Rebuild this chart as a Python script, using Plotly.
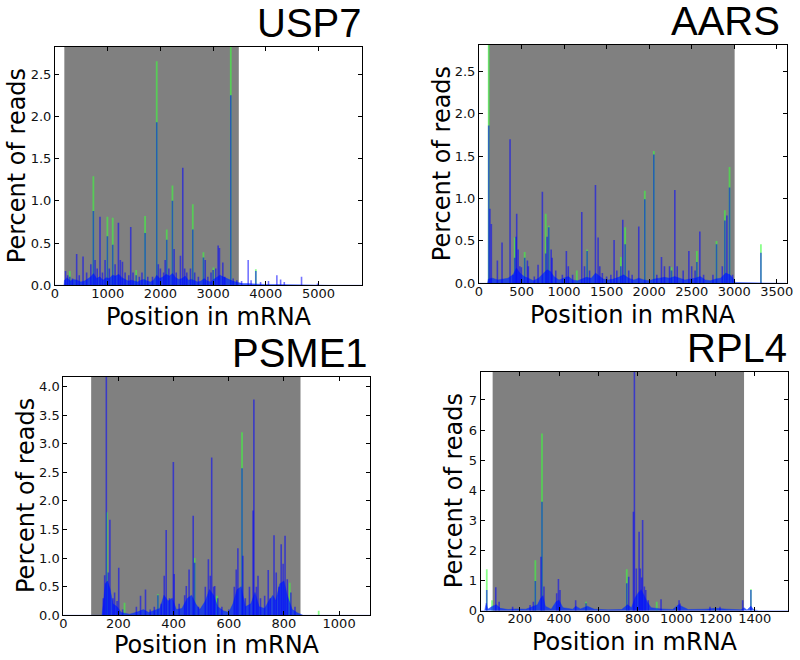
import plotly.graph_objects as go

# ---------------- data ----------------
genes = ["USP7", "AARS", "PSME1", "RPL4"]

# mRNA length shown on x axis, y-axis maximum, CDS (grey) region
usp7_len, usp7_ymax, usp7_cds = 5830, 2.82, (177, 3487)
aars_len, aars_ymax, aars_cds = 3617, 2.81, (110, 3005)
psme1_len, psme1_ymax, psme1_cds = 1112, 4.17, (101, 860)
rpl4_len, rpl4_ymax, rpl4_cds = 1571, 7.94, (61, 1345)

usp7_xticks = [0, 1000, 2000, 3000, 4000, 5000]
usp7_yticks = [0.0, 0.5, 1.0, 1.5, 2.0, 2.5]
aars_xticks = [0, 500, 1000, 1500, 2000, 2500, 3000, 3500]
aars_yticks = [0.0, 0.5, 1.0, 1.5, 2.0, 2.5]
psme1_xticks = [0, 200, 400, 600, 800, 1000]
psme1_yticks = [0.0, 0.5, 1.0, 1.5, 2.0, 2.5, 3.0, 3.5, 4.0]
rpl4_xticks = [0, 200, 400, 600, 800, 1000, 1200, 1400]
rpl4_yticks = [0, 1, 2, 3, 4, 5, 6, 7]

# (position, percent of reads) - blue sample peaks
usp7_blue = [(200, 0.17), (240, 0.12), (280, 0.10), (330, 0.08), (411, 0.37), (460, 0.12), (532, 0.34),
             (600, 0.15), (680, 0.25), (728, 0.88), (760, 0.30), (800, 0.20), (854, 0.81), (900, 0.15),
             (950, 0.30), (994, 0.58), (1030, 0.20), (1095, 0.48), (1140, 0.25), (1203, 0.74), (1240, 0.30),
             (1280, 0.28), (1330, 0.15), (1400, 0.12), (1437, 0.69), (1480, 0.15), (1540, 0.12), (1600, 0.10),
             (1650, 0.15), (1709, 0.62), (1760, 0.10), (1850, 0.10), (1930, 1.93), (1960, 0.25), (2000, 0.20),
             (2060, 0.15), (2090, 0.30), (2120, 0.54), (2160, 0.20), (2228, 1.00), (2260, 0.43), (2300, 0.15),
             (2380, 0.35), (2424, 1.39), (2460, 0.20), (2500, 0.15), (2570, 0.20), (2614, 0.66), (2650, 0.15),
             (2720, 0.10), (2816, 0.33), (2850, 0.30), (2900, 0.10), (2960, 0.15), (3000, 0.18), (3050, 0.20),
             (3095, 0.47), (3120, 0.44), (3184, 0.27), (3220, 0.10), (3335, 2.25), (3380, 0.08), (3450, 0.06),
             (3540, 0.05), (3665, 0.30), (3720, 0.06), (3810, 0.17), (3900, 0.04), (4050, 0.05), (4209, 0.12),
             (4280, 0.07), (4350, 0.04), (4677, 0.10), (4981, 0.02)]
usp7_green = [(280, 0.17), (728, 1.29), (994, 0.81), (1095, 0.80), (1540, 0.18), (1709, 0.82), (1930, 2.65),
              (2120, 0.66), (2228, 1.18), (2614, 0.96), (2816, 0.39), (3006, 0.21), (3335, 2.90), (3810, 0.19)]
usp7_base = [(0, 0), (170, 0), (180, 0.06), (230, 0.09), (290, 0.05), (350, 0.07), (420, 0.06), (490, 0.04),
             (560, 0.05), (620, 0.07), (680, 0.10), (730, 0.14), (790, 0.08), (850, 0.10), (910, 0.06),
             (970, 0.09), (1030, 0.08), (1090, 0.12), (1150, 0.11), (1210, 0.13), (1270, 0.09), (1330, 0.07),
             (1390, 0.05), (1450, 0.06), (1510, 0.05), (1570, 0.04), (1630, 0.06), (1690, 0.07), (1750, 0.05),
             (1810, 0.04), (1870, 0.06), (1930, 0.12), (1990, 0.08), (2050, 0.10), (2110, 0.13), (2170, 0.11),
             (2230, 0.14), (2290, 0.09), (2350, 0.07), (2410, 0.08), (2470, 0.11), (2530, 0.06), (2590, 0.07),
             (2650, 0.05), (2710, 0.04), (2770, 0.05), (2830, 0.08), (2890, 0.05), (2950, 0.04), (3010, 0.07),
             (3070, 0.09), (3130, 0.12), (3190, 0.10), (3250, 0.08), (3310, 0.06), (3370, 0.05), (3430, 0.04),
             (3490, 0.03), (3560, 0.02), (3650, 0.02), (3760, 0.015), (3880, 0.01), (4000, 0.01), (4150, 0.01),
             (4300, 0.01), (4450, 0.008), (4600, 0.005), (4800, 0.004), (5000, 0.003), (5200, 0), (5830, 0)]

aars_blue = [(114, 1.86), (128, 0.88), (145, 0.70), (216, 0.27), (271, 0.48), (365, 1.70), (400, 0.10),
             (420, 0.30), (435, 0.55), (443, 0.82), (460, 0.40), (480, 0.20), (498, 0.19), (537, 0.30),
             (569, 0.27), (580, 0.20), (650, 0.08), (694, 0.22), (745, 1.08), (784, 0.35), (800, 0.55),
             (820, 0.66), (848, 0.40), (859, 0.30), (902, 0.15), (980, 0.10), (1027, 0.38), (1050, 0.20),
             (1100, 0.10), (1208, 0.84), (1240, 0.20), (1271, 0.38), (1300, 0.15), (1369, 1.16), (1400, 0.54),
             (1420, 0.20), (1450, 0.12), (1500, 0.08), (1550, 0.10), (1588, 0.51), (1620, 0.15), (1667, 0.20),
             (1690, 0.75), (1718, 0.46), (1760, 0.15), (1800, 0.10), (1878, 0.67), (1949, 0.99), (2055, 1.52),
             (2090, 0.10), (2145, 0.31), (2180, 0.20), (2240, 0.20), (2263, 0.15), (2302, 1.10), (2330, 0.20),
             (2400, 0.15), (2467, 0.38), (2500, 0.20), (2540, 0.15), (2561, 0.25), (2596, 0.61), (2640, 0.10),
             (2750, 0.10), (2792, 0.46), (2860, 0.20), (2890, 0.74), (2914, 0.80), (2945, 1.13), (2980, 0.10),
             (3314, 0.36)]
aars_green = [(114, 2.90), (420, 0.54), (537, 0.37), (784, 0.82), (820, 0.68), (1150, 0.15), (1271, 0.40),
              (1667, 0.31), (1718, 0.66), (1949, 1.09), (2055, 1.56), (2263, 0.19), (2561, 0.38), (2792, 0.50),
              (2890, 0.86), (2945, 1.37), (3314, 0.46)]
aars_base = [(0, 0), (100, 0), (110, 0.05), (160, 0.06), (220, 0.04), (280, 0.05), (340, 0.06), (400, 0.10),
             (440, 0.18), (480, 0.12), (530, 0.08), (580, 0.06), (640, 0.03), (700, 0.06), (760, 0.12),
             (800, 0.16), (840, 0.14), (880, 0.08), (940, 0.04), (1000, 0.06), (1050, 0.08), (1100, 0.04),
             (1160, 0.03), (1210, 0.05), (1260, 0.07), (1320, 0.06), (1370, 0.12), (1410, 0.09), (1460, 0.05),
             (1520, 0.04), (1580, 0.05), (1640, 0.07), (1700, 0.10), (1760, 0.06), (1820, 0.04), (1880, 0.06),
             (1940, 0.04), (2000, 0.03), (2060, 0.05), (2120, 0.06), (2180, 0.07), (2240, 0.06), (2300, 0.08),
             (2360, 0.06), (2420, 0.04), (2480, 0.05), (2540, 0.06), (2600, 0.08), (2660, 0.04), (2720, 0.03),
             (2780, 0.05), (2840, 0.06), (2900, 0.12), (2950, 0.10), (3000, 0.04), (3010, 0.01), (3200, 0.005),
             (3617, 0)]

psme1_blue = [(145, 0.30), (150, 0.70), (156, 4.30), (163, 0.75), (169, 1.67), (180, 0.30), (186, 0.40),
              (195, 0.25), (201, 0.83), (215, 0.10), (265, 0.15), (280, 0.34), (298, 0.45), (315, 0.10),
              (330, 0.15), (343, 0.35), (355, 0.20), (366, 0.69), (373, 1.49), (385, 0.30), (399, 2.68),
              (402, 0.72), (420, 0.20), (440, 0.35), (446, 0.51), (456, 0.80), (471, 1.74), (476, 0.92),
              (490, 0.15), (515, 0.50), (526, 0.98), (533, 0.69), (538, 2.76), (545, 0.50), (549, 0.51),
              (560, 0.30), (575, 0.15), (600, 0.10), (620, 0.50), (627, 0.80), (633, 1.17), (648, 2.57),
              (651, 1.04), (660, 0.30), (675, 0.50), (688, 1.83), (691, 3.77), (700, 0.50), (706, 0.69),
              (715, 0.30), (730, 0.34), (743, 0.79), (750, 0.30), (764, 1.40), (772, 0.75), (782, 0.50),
              (790, 1.24), (797, 0.90), (804, 1.39), (812, 0.63), (825, 0.40), (840, 0.15)]
psme1_green = [(158, 1.80), (222, 0.22), (343, 0.37), (476, 1.00), (557, 0.34), (648, 3.20), (821, 0.57),
               (926, 0.08)]
psme1_base = [(0, 0), (140, 0), (145, 0.20), (152, 0.55), (160, 0.60), (170, 0.45), (180, 0.20), (195, 0.15),
              (210, 0.05), (240, 0.02), (270, 0.06), (290, 0.10), (310, 0.05), (330, 0.08), (350, 0.12),
              (365, 0.35), (380, 0.25), (395, 0.30), (410, 0.10), (430, 0.12), (450, 0.30), (465, 0.35),
              (480, 0.20), (495, 0.10), (515, 0.25), (530, 0.45), (545, 0.35), (560, 0.15), (580, 0.08),
              (600, 0.05), (615, 0.20), (630, 0.45), (645, 0.50), (660, 0.15), (680, 0.20), (695, 0.40),
              (710, 0.15), (730, 0.12), (745, 0.25), (760, 0.35), (770, 0.25), (785, 0.55), (800, 0.60),
              (812, 0.35), (830, 0.10), (850, 0.04), (860, 0.02), (870, 0), (1112, 0)]

rpl4_blue = [(31, 0.69), (77, 0.78), (94, 0.30), (163, 0.13), (252, 0.19), (269, 0.30), (279, 0.99),
             (308, 1.79), (313, 3.62), (323, 0.80), (388, 0.58), (397, 1.05), (405, 0.69), (485, 0.35),
             (538, 0.25), (746, 0.91), (756, 1.13), (780, 3.29), (785, 8.20), (795, 1.40), (809, 2.62),
             (815, 1.40), (822, 1.10), (827, 3.01), (836, 0.80), (843, 0.69), (856, 0.35), (921, 0.38),
             (1013, 0.35), (1018, 0.24), (1171, 0.13), (1222, 0.13), (1338, 0.35), (1380, 0.69)]
rpl4_green = [(31, 1.38), (58, 0.35), (279, 1.68), (313, 5.89), (538, 0.30), (746, 1.38), (899, 0.30),
              (1380, 0.71)]
rpl4_base = [(0, 0), (20, 0), (28, 0.25), (36, 0.05), (60, 0.15), (80, 0.20), (100, 0.08), (140, 0.04),
             (180, 0.06), (230, 0.05), (270, 0.15), (290, 0.20), (305, 0.40), (318, 0.50), (330, 0.15),
             (360, 0.05), (385, 0.30), (400, 0.35), (420, 0.10), (470, 0.05), (485, 0.15), (510, 0.06),
             (545, 0.15), (580, 0.05), (650, 0.03), (720, 0.04), (750, 0.20), (770, 0.10), (790, 0.45),
             (805, 0.60), (820, 0.70), (835, 0.50), (850, 0.30), (870, 0.10), (920, 0.06), (980, 0.04),
             (1010, 0.20), (1025, 0.15), (1060, 0.04), (1150, 0.05), (1200, 0.08), (1260, 0.05), (1330, 0.03),
             (1345, 0.10), (1360, 0.02), (1380, 0.15), (1395, 0.03), (1420, 0), (1571, 0)]

# ---------------- layout geometry ----------------
W, H = 800, 660
# axes boxes in pixels: left, right, top, bottom
boxes = {
    "USP7": (55, 362.3, 47, 285.3),
    "AARS": (479, 786.7, 45, 283.3),
    "PSME1": (63.3, 370, 376.7, 615.3),
    "RPL4": (480.7, 788.3, 371.7, 610.7),
}
title_right = {"USP7": 364, "AARS": 782, "PSME1": 370, "RPL4": 789}
ylab_x = {"USP7": 17, "AARS": 442, "PSME1": 26, "RPL4": 454}
xlab_gap = {"USP7": 16, "AARS": 16, "PSME1": 14, "RPL4": 15}

panels = {
    "USP7": dict(L=usp7_len, ymax=usp7_ymax, cds=usp7_cds, xt=usp7_xticks, yt=usp7_yticks,
                 blue=usp7_blue, green=usp7_green, base=usp7_base, fmt=".1f"),
    "AARS": dict(L=aars_len, ymax=aars_ymax, cds=aars_cds, xt=aars_xticks, yt=aars_yticks,
                 blue=aars_blue, green=aars_green, base=aars_base, fmt=".1f"),
    "PSME1": dict(L=psme1_len, ymax=psme1_ymax, cds=psme1_cds, xt=psme1_xticks, yt=psme1_yticks,
                  blue=psme1_blue, green=psme1_green, base=psme1_base, fmt=".1f"),
    "RPL4": dict(L=rpl4_len, ymax=rpl4_ymax, cds=rpl4_cds, xt=rpl4_xticks, yt=rpl4_yticks,
                 blue=rpl4_blue, green=rpl4_green, base=rpl4_base, fmt="d"),
}

BLUE = "rgba(0,0,255,0.55)"
BASEBLUE = "rgba(0,45,255,0.75)"
GREEN = "rgba(60,255,60,0.6)"
TICKFONT = dict(family="DejaVu Sans", size=13, color="#111")
LABFONT = dict(family="DejaVu Sans", size=24, color="black")
TITLEFONT = dict(family="Liberation Sans, Arial", size=40, color="black")


def stems(pairs):
    xs, ys = [], []
    for p, v in pairs:
        xs += [p, p, None]
        ys += [0, v, None]
    return xs, ys


fig = go.Figure()
layout = dict(width=W, height=H, margin=dict(l=0, r=0, t=0, b=0, autoexpand=False),
              paper_bgcolor="white", plot_bgcolor="white", showlegend=False)
shapes, annotations = [], []

for i, g in enumerate(genes):
    p = panels[g]
    n = "" if i == 0 else str(i + 1)
    xa, ya = "x" + n, "y" + n
    l, r, t, b = boxes[g]
    dx = [l / W, r / W]
    dy = [(H - b) / H, (H - t) / H]
    axis_common = dict(showline=True, linecolor="black", linewidth=1, mirror="ticks",
                       ticks="inside", ticklen=4, tickcolor="black", showgrid=False,
                       zeroline=False, tickfont=TICKFONT, automargin=False)
    layout["xaxis" + n] = dict(domain=dx, anchor=ya, range=[0, p["L"]], tickvals=p["xt"],
                               ticktext=[str(v) for v in p["xt"]], ticklabelstandoff=-4,
                               **axis_common)
    layout["yaxis" + n] = dict(domain=dy, anchor=xa, range=[0, p["ymax"]], tickvals=p["yt"],
                               tickformat=p["fmt"], **axis_common)

    # CDS shading
    shapes.append(dict(type="rect", xref=xa, yref=ya + " domain", x0=p["cds"][0], x1=p["cds"][1],
                       y0=0, y1=1, fillcolor="#808080", line=dict(width=0), layer="below"))

    # green sample (behind)
    gx, gy = stems(p["green"])
    fig.add_trace(go.Scatter(x=gx, y=gy, mode="lines", line=dict(color=GREEN, width=1.8),
                             xaxis=xa, yaxis=ya, hoverinfo="skip"))
    # blue low-level coverage
    fig.add_trace(go.Scatter(x=[q[0] for q in p["base"]], y=[q[1] for q in p["base"]], mode="lines",
                             line=dict(color=BASEBLUE, width=0.5), fill="tozeroy", fillcolor=BASEBLUE,
                             xaxis=xa, yaxis=ya, hoverinfo="skip"))
    # blue peaks
    bx, by = stems(p["blue"])
    fig.add_trace(go.Scatter(x=bx, y=by, mode="lines", line=dict(color=BLUE, width=1.6),
                             xaxis=xa, yaxis=ya, hoverinfo="skip"))

    # gene title
    annotations.append(dict(text=g, xref="paper", yref="paper", x=title_right[g] / W, y=(H - t) / H,
                            xanchor="right", yanchor="bottom", showarrow=False, font=TITLEFONT))
    # x label
    annotations.append(dict(text="Position in mRNA", xref="paper", yref="paper", x=(l + r) / 2 / W,
                            y=(H - (b + xlab_gap[g])) / H, xanchor="center", yanchor="top", showarrow=False,
                            font=LABFONT))
    # y label
    annotations.append(dict(text="Percent of reads", xref="paper", yref="paper", x=ylab_x[g] / W,
                            y=(H - (t + b) / 2) / H, xanchor="center", yanchor="middle", textangle=-90,
                            showarrow=False, font=LABFONT))

layout["shapes"] = shapes
layout["annotations"] = annotations
fig.update_layout(**layout)
fig.write_html("out.html", config={"displayModeBar": False},
               post_script="document.body.style.margin='0';document.body.style.overflow='hidden';")
